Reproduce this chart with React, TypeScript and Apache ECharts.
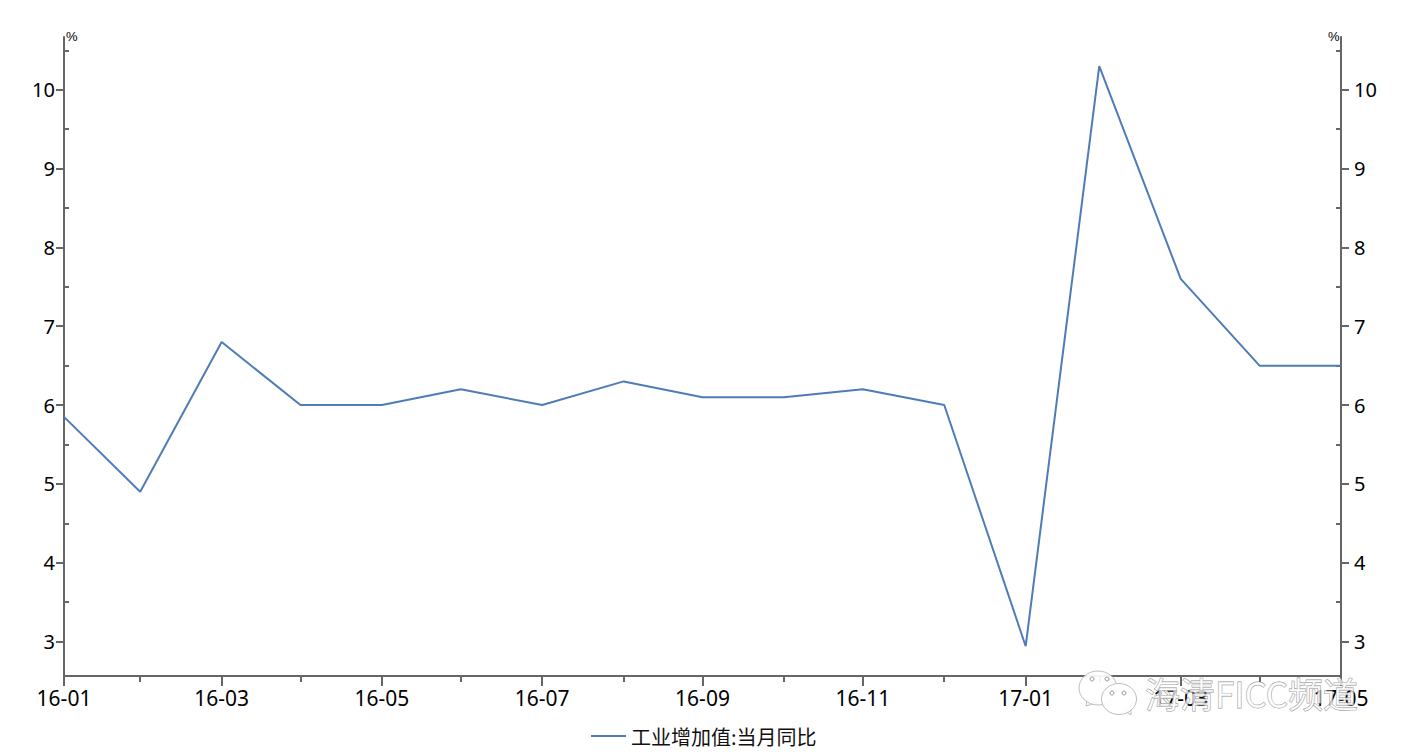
import React, { useEffect, useRef } from "react";
import * as echarts from "echarts";

const pointDates = [
  "2016-01-31", "2016-02-29", "2016-03-31", "2016-04-30", "2016-05-31", "2016-06-30",
  "2016-07-31", "2016-08-31", "2016-09-30", "2016-10-31", "2016-11-30", "2016-12-31",
  "2017-01-31", "2017-02-28", "2017-03-31", "2017-04-30", "2017-05-31",
];
const industrialYoY = [5.85, 4.9, 6.8, 6.0, 6.0, 6.2, 6.0, 6.3, 6.1, 6.1, 6.2, 6.0, 2.94, 10.3, 7.6, 6.5, 6.5];
const majorMonths = [
  "2016-01-31", "2016-03-31", "2016-05-31", "2016-07-31", "2016-09-30", "2016-11-30",
  "2017-01-31", "2017-03-31", "2017-05-31",
];
const minorMonths = [
  "2016-02-29", "2016-04-30", "2016-06-30", "2016-08-31", "2016-10-31", "2016-12-31",
  "2017-02-28", "2017-04-30",
];
const majorY = [3, 4, 5, 6, 7, 8, 9, 10];
const minorY = [3.5, 4.5, 5.5, 6.5, 7.5, 8.5, 9.5, 10.5, 2.5].filter((v) => v > 2.56);
const seriesName = "工业增加值:当月同比";
const unit = "%";
const watermark = "海清FICC频道";

const ts = (s: string) => new Date(s + "T00:00:00Z").getTime();
const fmtMonth = (v: number) => {
  const d = new Date(v);
  return String(d.getUTCFullYear()).slice(2) + "-" + String(d.getUTCMonth() + 1).padStart(2, "0");
};

const AXIS = "#666666";
const LINE = "#4f7cb8";
const FONT = "'Noto Sans', 'Noto Sans CJK SC', sans-serif";
const yMin = 2.562;
const yMax = 10.67;
const xMin = ts(pointDates[0]);
const xMax = ts(pointDates[pointDates.length - 1]);

export default function App() {
  const ref = useRef<HTMLDivElement>(null);
  useEffect(() => {
    document.body.style.margin = "0";
    const chart = echarts.init(ref.current!, null, { renderer: "svg" });
    const xBase = { type: "value", min: xMin, max: xMax, position: "bottom", splitLine: { show: false } };
    const yBase = { type: "value", min: yMin, max: yMax, splitLine: { show: false } };
    const bubble = { fill: "rgba(255,255,255,0.92)", stroke: "#bdbdbd", lineWidth: 1 };
    chart.setOption({
      animation: false,
      backgroundColor: "#ffffff",
      grid: { left: 64, right: 60, top: 37, bottom: 80, containLabel: false },
      legend: {
        show: true,
        left: 591,
        top: 726,
        padding: 0,
        icon: "rect",
        itemWidth: 35,
        itemHeight: 2,
        itemGap: 3,
        data: [seriesName],
        itemStyle: { color: LINE },
        textStyle: { fontFamily: "'Noto Sans CJK SC', sans-serif", fontSize: 20, color: "#111111" },
      },
      xAxis: [
        {
          ...xBase,
          axisLine: { show: true, lineStyle: { color: AXIS, width: 2 } },
          axisTick: { show: true, length: 10, inside: false, customValues: majorMonths.map(ts), lineStyle: { color: AXIS, width: 2 } },
          axisLabel: {
            show: true,
            customValues: majorMonths.map(ts),
            formatter: (v: number) => fmtMonth(v),
            fontFamily: FONT,
            fontSize: 21,
            color: "#000000",
            margin: 11,
            hideOverlap: false,
          },
        },
        {
          ...xBase,
          axisLine: { show: false },
          axisTick: { show: true, length: 6, customValues: minorMonths.map(ts), lineStyle: { color: AXIS, width: 2 } },
          axisLabel: { show: false },
        },
      ],
      yAxis: [
        {
          ...yBase,
          position: "left",
          axisLine: { show: true, lineStyle: { color: AXIS, width: 2 } },
          axisTick: { show: true, length: 8, customValues: majorY, lineStyle: { color: AXIS, width: 2 } },
          axisLabel: { show: true, customValues: majorY, fontFamily: FONT, fontSize: 20, color: "#000000", margin: 9 },
        },
        {
          ...yBase,
          position: "right",
          axisLine: { show: true, lineStyle: { color: AXIS, width: 2 } },
          axisTick: { show: true, length: 8, customValues: majorY, lineStyle: { color: AXIS, width: 2 } },
          axisLabel: { show: true, customValues: majorY, fontFamily: FONT, fontSize: 20, color: "#000000", margin: 13 },
        },
        {
          ...yBase,
          position: "left",
          axisLine: { show: false },
          axisLabel: { show: false },
          axisTick: { show: true, inside: true, length: 5, customValues: minorY, lineStyle: { color: AXIS, width: 2 } },
        },
        {
          ...yBase,
          position: "right",
          axisLine: { show: false },
          axisLabel: { show: false },
          axisTick: { show: true, inside: true, length: 5, customValues: minorY, lineStyle: { color: AXIS, width: 2 } },
        },
      ],
      series: [
        {
          name: seriesName,
          type: "line",
          xAxisIndex: 0,
          yAxisIndex: 0,
          data: pointDates.map((d, i) => [ts(d), industrialYoY[i]]),
          showSymbol: false,
          symbol: "none",
          smooth: false,
          clip: false,
          lineStyle: { color: LINE, width: 2 },
          itemStyle: { color: LINE },
        },
      ],
      graphic: [
        { type: "text", x: 66, y: 30, z: 20, style: { text: unit, font: "13px 'Liberation Sans', sans-serif", fill: "#000000" } },
        { type: "text", x: 1328, y: 30, z: 20, style: { text: unit, font: "13px 'Liberation Sans', sans-serif", fill: "#000000" } },
        { type: "polygon", z: 30, shape: { points: [[1087, 700], [1086, 706], [1096, 703]] }, style: bubble },
        { type: "ellipse", z: 30, shape: { cx: 1098, cy: 688, rx: 19, ry: 17 }, style: bubble },
        { type: "polygon", z: 31, shape: { points: [[1124, 710], [1131, 715], [1131, 707]] }, style: bubble },
        { type: "ellipse", z: 31, shape: { cx: 1119, cy: 699, rx: 17.5, ry: 15.5 }, style: bubble },
        { type: "circle", z: 32, shape: { cx: 1092, cy: 679, r: 2 }, style: { fill: "#ffffff", stroke: "#9a9a9a", lineWidth: 1 } },
        { type: "circle", z: 32, shape: { cx: 1107, cy: 679, r: 2 }, style: { fill: "#ffffff", stroke: "#9a9a9a", lineWidth: 1 } },
        { type: "circle", z: 32, shape: { cx: 1112, cy: 693, r: 2 }, style: { fill: "#ffffff", stroke: "#9a9a9a", lineWidth: 1 } },
        { type: "circle", z: 32, shape: { cx: 1124, cy: 693, r: 2 }, style: { fill: "#ffffff", stroke: "#9a9a9a", lineWidth: 1 } },
        {
          type: "text",
          x: 1145,
          y: 675,
          z: 33,
          style: {
            text: watermark,
            font: "35px 'Noto Sans CJK SC', sans-serif",
            fill: "rgba(255,255,255,0.72)",
            stroke: "#8f8f8f",
            lineWidth: 0.8,
          },
        },
      ],
    });
    return () => chart.dispose();
  }, []);
  return <div ref={ref} style={{ width: 1401, height: 756 }} />;
}
